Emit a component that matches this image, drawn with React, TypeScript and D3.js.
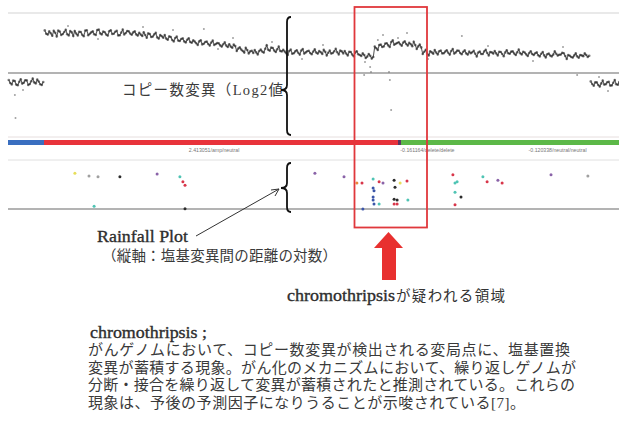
import React from "react";
import * as d3 from "d3";

const W = 619;
const H = 423;

// Copy-number log2 ratio, one value per 1-Mb bin (bin index = position in Mb)
const cnLog2 = [
  -0.35, -0.57, -0.40, -0.61, -0.31, -0.49, -0.37, -0.55, -0.28, -0.52, -0.43, -0.60,
  2.13, 1.92, 1.99, 2.11, 1.83, 2.07, 1.95, 2.16, 1.88, 2.03,
  2.10, 1.88, 2.05, 1.84, 2.14, 1.96, 2.08, 1.90, 2.17, 1.93,
  2.04, 1.87, 2.14, 1.96, 2.11, 1.89, 2.17, 2.00, 2.08, 1.91,
  2.08, 1.87, 1.92, 2.04, 1.76, 1.95, 1.82, 2.01, 1.72, 1.84,
  1.90, 1.66, 1.80, 1.58, 1.82, 1.60, 1.73, 1.53, 1.74, 1.51,
  1.57, 1.40, 1.64, 1.46, 1.57, 1.37, 1.62, 1.45, 1.48, 1.32,
  1.53, 1.30, 1.32, 1.42, 1.10, 1.28, 1.10, 1.26, 0.98, 1.11,
  1.15, 0.93, 1.17, 1.02, 1.39, 1.11, 1.25, 1.05, 1.32, 1.08,
  1.07, 0.90, 1.17, 0.99, 1.14, 0.92, 1.20, 1.03, 1.11, 0.94,
  1.18, 0.97, 1.04, 1.16, 0.88, 1.12, 1.00, 1.21, 0.93, 1.08,
  1.10, 0.88, 1.05, 0.84, 1.09, 0.90, 0.98, 0.75, 0.95, 0.72,
  1.32, 1.15, 1.42, 1.33, 1.49, 1.30, 1.63, 1.46, 1.54, 1.36,
  1.58, 1.37, 1.44, 1.56, 1.20, 1.42, 0.95, 1.16, 0.88, 1.03,
  1.15, 0.93, 1.12, 0.99, 1.14, 0.92, 1.20, 1.03, 1.11, 0.94,
  1.13, 0.92, 0.99, 1.11, 0.83, 1.07, 0.95, 1.16, 0.88, 1.03,
  1.10, 0.88, 1.05, 0.84, 1.14, 0.96, 1.08, 0.90, 1.17, 0.93,
  1.02, 0.85, 1.09, 0.90, 1.03, 0.83, 1.05, 0.78, 0.97, 0.83,
  1.08, 0.87, 0.92, 0.99, 0.70, 0.86, 0.77, 0.98, 0.76, 0.88,
  0.98, 0.80,
  -0.42, -0.64, -0.47, -0.68, -0.38, -0.56, -0.44, -0.62, -0.35, -0.59, -0.50,
];
// second probe per bin (half-Mb offset)
const cnLog2B = [
  -0.50, -0.38, -0.58, -0.44, -0.53, -0.36, -0.60, -0.41, -0.47, -0.33, -0.56, -0.45,
  1.96, 2.08, 1.86, 2.01, 2.12, 1.90, 2.05, 1.94, 2.10, 1.85,
  1.97, 2.06, 1.91, 2.12, 1.89, 2.03, 1.94, 2.15, 1.98, 2.07,
  1.92, 2.09, 1.95, 2.06, 1.88, 2.02, 1.93, 2.10, 1.97, 2.03,
  1.93, 2.01, 1.85, 1.90, 1.98, 1.80, 1.93, 1.78, 1.90, 1.76,
  1.72, 1.83, 1.65, 1.75, 1.62, 1.70, 1.58, 1.66, 1.55, 1.63,
  1.49, 1.58, 1.43, 1.55, 1.45, 1.52, 1.40, 1.50, 1.38, 1.44,
  1.37, 1.44, 1.26, 1.35, 1.22, 1.17, 1.02, 1.15, 1.08, 1.00,
  1.03, 1.10, 1.07, 1.21, 1.16, 1.27, 1.12, 1.19, 1.10, 1.16,
  0.99, 1.10, 0.96, 1.08, 1.01, 1.12, 0.97, 1.09, 1.00, 1.07,
  1.02, 1.10, 0.95, 1.06, 1.01, 0.97, 1.09, 1.04, 1.12, 0.98,
  0.97, 1.06, 0.92, 1.02, 0.94, 0.85, 0.90, 0.82, 0.86, 0.80,
  1.24, 1.40, 1.30, 1.47, 1.38, 1.55, 1.41, 1.50, 1.44, 1.52,
  1.45, 1.51, 1.34, 1.40, 1.33, 1.28, 1.06, 0.97, 1.09, 0.96,
  1.02, 1.09, 0.98, 1.07, 1.01, 1.10, 0.97, 1.12, 1.00, 1.06,
  0.98, 1.07, 1.04, 0.96, 1.02, 0.95, 1.08, 1.00, 1.05, 0.97,
  0.98, 1.06, 0.95, 1.03, 0.99, 1.07, 0.97, 1.04, 0.99, 1.06,
  0.93, 1.00, 0.95, 0.99, 0.89, 0.96, 0.88, 0.94, 0.87, 0.92,
  0.96, 0.91, 1.01, 0.85, 0.90, 0.80, 0.88, 0.83, 0.90, 0.84,
  0.90, 0.86,
  -0.55, -0.47, -0.60, -0.52, -0.58, -0.46, -0.63, -0.49, -0.56, -0.45, -0.61,
];
// first bin of each copy-number segment
const cnSegStarts = [0, 12, 194];

// scattered outlier probes
const cnOutPos = [2.3, 2.5, 65.3, 151.3, 127, 127.3, 127.7, 118.7, 121, 189.7, 133, 123.3, 119, 120.7, 125, 130, 20, 45, 75, 88, 105, 140, 160, 175, 185, 70, 30, 55, 98, 200, 5, 197];
const cnOutVal = [-1.1, -2.25, 2.2, 1.85, 0.05, -0.35, -1.85, -0.1, 0.05, -0.1, 2.0, 1.65, 0.55, 0.3, 1.9, 1.75, 2.35, 2.3, 1.75, 1.55, 1.4, 0.7, 1.35, 0.6, 1.3, 1.2, 1.7, 2.15, 0.7, -0.9, -0.85, -0.2];

// segmentation colour bar
const segStart = [0, 12, 130, 131];
const segEnd = [12, 130, 131, 204];
const segColor = ["#3a6fc0", "#e8333b", "#5a3563", "#5cb848"];
const segLabels = ["2.413051/amp/neutral", "-0.161164/delete/delete", "-0.120338/neutral/neutral"];
const segLabelPos = [68.7, 139.8, 183.2];

// rainfall: position (Mb), log10 inter-mutation distance, substitution class
const rfPos = [22.3, 27, 30, 37.3, 49.7, 57.3, 58.3, 59, 28.7, 59, 102.3, 112, 116.3, 118, 121.7, 121.7, 122, 123.7, 125, 128.7, 129, 130.7, 133, 121.7, 121.7, 122, 123.7, 128.7, 129.7, 128.7, 129.7, 133.3, 118.3, 148.3, 149, 149.7, 149, 151, 149, 158.3, 159.7, 163.3, 164.7, 181, 193.3];
const rfDist = [5.1, 4.7, 4.6, 4.6, 5.0, 4.6, 3.9, 3.4, 0.4, 0.05, 5.1, 4.6, 3.7, 3.7, 4.3, 3.0, 2.6, 3.9, 3.7, 4.1, 3.1, 3.7, 4.0, 1.7, 1.3, 0.7, 0.7, 1.4, 1.3, 0.7, 0.7, 1.3, 0.0, 4.9, 3.7, 3.9, 2.4, 1.7, 0.6, 4.6, 3.9, 4.1, 3.7, 4.9, 4.7];
const rfClass = ["ins", "T>A", "T>A", "C>G", "T>G", "T>C", "C>T", "C>T", "T>C", "C>G", "T>G", "T>G", "del", "C>T", "T>C", "C>A", "C>A", "C>T", "T>G", "C>G", "C>G", "ins", "C>T", "C>A", "C>A", "C>A", "T>C", "C>G", "C>G", "C>T", "C>T", "T>C", "C>A", "C>T", "T>C", "T>C", "T>C", "C>G", "C>T", "T>C", "C>T", "T>G", "C>T", "T>G", "T>A"];
const mutClasses = ["C>A", "C>G", "C>T", "T>A", "T>C", "T>G", "ins", "del"];
const mutColors = ["#3a55a8", "#2b2b2b", "#d8364a", "#a0a0a0", "#4fc4b4", "#8a63a8", "#e7de5a", "#e8883a"];

// text
const cnLabel = "コピー数変異（Log2値";
const rainLabel1 = "Rainfall Plot";
const rainLabel2 = "（縦軸：塩基変異間の距離の対数）";
const regionLatin = "chromothripsis";
const regionJa = "が疑われる領域";
const noteTitle = "chromothripsis ;";
const noteLines = [
  "がんゲノムにおいて、コピー数変異が検出される変局点に、塩基置換",
  "変異が蓄積する現象。がん化のメカニズムにおいて、繰り返しゲノムが",
  "分断・接合を繰り返して変異が蓄積されたと推測されている。これらの",
  "現象は、予後の予測因子になりうることが示唆されている[7]。",
];
const noteLineEnds = [570, 576, 575, 525];

const FONT = "'Liberation Serif', 'Noto Sans CJK JP', serif";

function brace(xr: number, xl: number, top: number, mid: number, bottom: number) {
  const xm = (xr + xl) / 2 + 1;
  const r = 5;
  return `M${xr},${top} Q${xm},${top} ${xm},${top + r} L${xm},${mid - r} Q${xm},${mid} ${xl},${mid} Q${xm},${mid} ${xm},${mid + r} L${xm},${bottom - r} Q${xm},${bottom} ${xr},${bottom}`;
}

type P = { pos: number; v: number };

export default function App() {
  const x = d3.scaleLinear().domain([0, 204]).range([8, 620]);
  const yCn = d3.scaleLinear().domain([-3, 3]).range([133, 13]);
  const yRf = d3.scaleLinear().domain([0, 7]).range([209, 160]);
  const color = d3.scaleOrdinal<string, string>().domain(mutClasses).range(mutColors);

  const groups: P[][] = cnSegStarts.map((s, gi) => {
    const e = gi + 1 < cnSegStarts.length ? cnSegStarts[gi + 1] : cnLog2.length;
    const pts: P[] = [];
    for (let i = s; i < e; i++) {
      pts.push({ pos: i + 0.25, v: cnLog2[i] });
      pts.push({ pos: i + 0.75, v: cnLog2B[i] });
    }
    return pts;
  });
  const line = d3
    .line<P>()
    .x((d) => x(d.pos))
    .y((d) => yCn(d.v));

  return (
    <svg
      width={W}
      height={H}
      style={{ position: "absolute", left: 0, top: 0, background: "#fff" }}
      fontFamily={FONT}
    >
      {/* copy number panel frame */}
      <line x1={8} x2={W} y1={13} y2={13} stroke="#e2e2e2" strokeWidth={1.5} />
      <line x1={8} x2={W} y1={yCn(0)} y2={yCn(0)} stroke="#9a9a9a" strokeWidth={1.6} />

      {/* copy number probes */}
      {groups.map((g, i) => (
        <path key={"l" + i} d={line(g) || ""} fill="none" stroke="#333" strokeWidth={1.1} strokeOpacity={0.8} />
      ))}
      {groups.flat().map((d, i) => (
        <circle key={"p" + i} cx={x(d.pos)} cy={yCn(d.v)} r={1.3} fill="#2a2a2a" fillOpacity={0.6} />
      ))}
      {cnOutPos.map((p, i) => (
        <circle key={"o" + i} cx={x(p)} cy={yCn(cnOutVal[i])} r={1} fill="#777" fillOpacity={0.7} />
      ))}

      <text x={122} y={95} fontSize={14.5} fill="#3a3a3a" textLength={161} lengthAdjust="spacing">
        {cnLabel}
      </text>

      {/* segmentation bar */}
      <line x1={8} x2={W} y1={137} y2={137} stroke="#e6dede" strokeWidth={1} />
      {segStart.map((s, i) => (
        <rect key={"s" + i} x={x(s)} y={140} width={x(segEnd[i]) - x(s)} height={5} fill={segColor[i]} />
      ))}
      {segLabels.map((t, i) => (
        <text key={"t" + i} x={x(segLabelPos[i])} y={152} fontSize={5.2} fill="#777" textAnchor="middle" fontFamily="'Liberation Sans', sans-serif">
          {t}
        </text>
      ))}

      {/* rainfall panel */}
      <line x1={8} x2={W} y1={160} y2={160} stroke="#e0e0e0" strokeWidth={1} />
      <line x1={8} x2={W} y1={yRf(0)} y2={yRf(0)} stroke="#9a9a9a" strokeWidth={1.6} />
      {rfPos.map((p, i) => (
        <circle key={"r" + i} cx={x(p)} cy={yRf(rfDist[i])} r={1.5} fill={color(rfClass[i])} />
      ))}

      {/* red region box */}
      <rect x={354.5} y={7} width={72.5} height={220.5} fill="none" stroke="#e0383c" strokeWidth={1.8} />

      {/* braces */}
      <path d={brace(291, 281, 17, 90, 135)} fill="none" stroke="#111" strokeWidth={1.8} />
      <path d={brace(291, 281, 163, 188, 212)} fill="none" stroke="#111" strokeWidth={1.8} />

      {/* rainfall arrow */}
      <line x1={196} y1={236} x2={279} y2={189} stroke="#333" strokeWidth={1} />
      <path d="M279,189 L271,190 M279,189 L275,196" stroke="#333" strokeWidth={1} fill="none" />

      <text x={97} y={242} fontSize={17} fill="#2e2e2e" stroke="#2e2e2e" strokeWidth={0.35} textLength={91} lengthAdjust="spacingAndGlyphs">
        {rainLabel1}
      </text>
      <text x={102} y={261} fontSize={14.5} fill="#3a3a3a" textLength={235} lengthAdjust="spacing">
        {rainLabel2}
      </text>

      {/* red up arrow */}
      <path d="M374,248 L388.5,232 L403,248 L396,248 L396,280 L382,280 L382,248 Z" fill="#e8302f" />

      <text x={287} y={301} fontSize={16.5} fill="#2e2e2e" stroke="#2e2e2e" strokeWidth={0.35} textLength={108} lengthAdjust="spacingAndGlyphs">
        {regionLatin}
      </text>
      <text x={396} y={301} fontSize={14.5} fill="#333" textLength={109} lengthAdjust="spacing">
        {regionJa}
      </text>

      {/* note */}
      <text x={90} y={338} fontSize={16.5} fill="#2e2e2e" stroke="#2e2e2e" strokeWidth={0.35} textLength={117} lengthAdjust="spacingAndGlyphs">
        {noteTitle}
      </text>
      {noteLines.map((t, i) => (
        <text key={"n" + i} x={88} y={355 + i * 17.5} fontSize={15} fill="#3a3a3a" textLength={noteLineEnds[i] - 88} lengthAdjust="spacing">
          {t}
        </text>
      ))}
    </svg>
  );
}
